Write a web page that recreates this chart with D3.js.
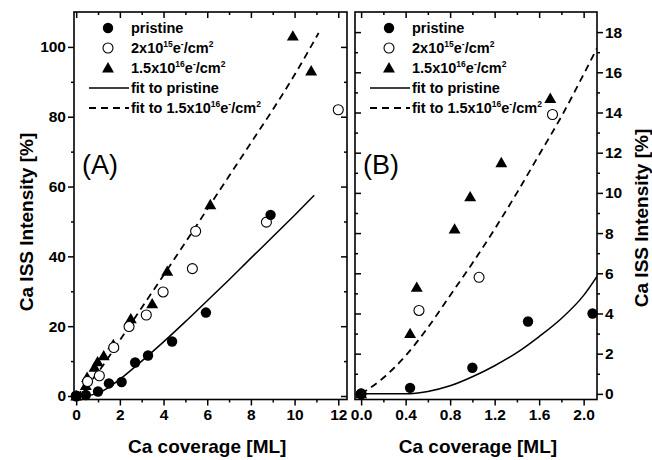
<!DOCTYPE html>
<html>
<head>
<meta charset="utf-8">
<script src="https://cdn.jsdelivr.net/npm/d3@7"></script>
<style>
  body { margin: 0; background: white; }
  text { font-family: "Liberation Sans", Arial, sans-serif; }
</style>
</head>
<body>
<svg id="chart" width="652" height="460"></svg>
<script>
// measured data (Ca coverage [ML], Ca ISS intensity [%])
const pristine = [[0,0],[0.44,0.3],[1.0,1.3],[1.5,3.6],[2.08,4.0],[2.7,9.6],[3.29,11.6],[4.39,15.6],[5.94,23.9],[8.9,51.9]];
const dose2e15 = [[0,0],[0.52,4.15],[1.06,5.8],[1.72,13.9],[2.42,19.9],[3.21,23.2],[3.98,29.8],[5.32,36.5],[5.47,47.2],[8.71,49.8],[12.0,82]];
const dose15e16 = [[0,0],[0.44,3.0],[0.5,5.3],[0.84,8.2],[0.98,9.8],[1.26,11.5],[1.7,14.7],[2.5,22.1],[3.48,26.4],[4.17,35.7],[6.14,54.8],[9.92,103.1],[10.76,93.1]];

// fit curves
const fitPristineA = [[0,0],[0.5,0.1],[1,0.9],[1.5,2.5],[2,4.8],[3,10],[4,15.5],[5,21.3],[6,27.3],[7,33.3],[8,39.5],[9,45.6],[10,51.8],[10.9,57.5]];
const fitDoseA = [[0,0],[0.5,3],[1,6.8],[2,16],[3,25.3],[4,34.6],[5,44],[6,53.5],[7,63],[8,72.5],[9,82],[10,92],[11.1,104]];
const fitPristineB = [[0,0],[0.4,0],[0.6,0.12],[0.8,0.4],[1.0,0.85],[1.2,1.4],[1.4,2.05],[1.6,2.85],[1.8,3.75],[2.0,4.9],[2.12,5.85]];
const fitDoseB = [[0,0],[0.2,0.8],[0.4,1.9],[0.6,3.3],[0.8,4.9],[1.0,6.5],[1.2,8.2],[1.4,10.0],[1.6,11.9],[1.8,13.8],[2.0,15.9],[2.12,17.2]];

const xTicksA = [0,2,4,6,8,10,12];
const yTicksA = [0,20,40,60,80,100];
const xTicksB = [0.0,0.4,0.8,1.2,1.6,2.0];
const yTicksB = [0,2,4,6,8,10,12,14,16,18];

const legendLabels = ["pristine", "2x10|15|e|-|/cm|2", "1.5x10|16|e|-|/cm|2", "fit to pristine", "fit to 1.5x10|16|e|-|/cm|2"];

const svg = d3.select("svg#chart");
const plotTop = 12, plotBottom = 399.5;

// panel A
const xA = d3.scaleLinear().domain([-0.1, 12.4]).range([74, 347]);
const yA = d3.scaleLinear().domain([-1, 110]).range([plotBottom, plotTop]);
// panel B
const xB = d3.scaleLinear().domain([-0.055, 2.12]).range([355, 597]);
const yB = d3.scaleLinear().domain([-0.28, 19]).range([plotBottom, plotTop]);

function minor(major) {
    // halfway minor ticks between majors, and one beyond each end
    let step = major[1] - major[0];
    let out = [];
    for (let i = -1; i < major.length; i++) out.push(+(major[0] + step * (i + 0.5)).toFixed(3));
    return out;
}

function panel(name, x, y, xt, yt, xfmt, yfmt, labelsLeft, fitP, fitD, legendX) {
    const g = svg.append("g").attr("class", "panel-" + name);
    const [x0, x1] = x.range();
    const xMinor = minor(xt).filter(d => x(d) > x0 && x(d) < x1);
    const yMinor = minor(yt).filter(d => y(d) < plotBottom && y(d) > plotTop);

    // bottom axis, outward ticks
    g.append("g").attr("transform", `translate(0,${plotBottom})`)
        .call(d3.axisBottom(x).tickValues(xt).tickSize(6).tickPadding(3).tickFormat(xfmt));
    g.append("g").attr("transform", `translate(0,${plotBottom})`)
        .call(d3.axisBottom(x).tickValues(xMinor).tickSize(3).tickFormat(""));
    // top mirror, inward
    g.append("g").attr("transform", `translate(0,${plotTop})`)
        .call(d3.axisBottom(x).tickValues(xt).tickSize(6).tickFormat(""));
    g.append("g").attr("transform", `translate(0,${plotTop})`)
        .call(d3.axisBottom(x).tickValues(xMinor).tickSize(3).tickFormat(""));

    if (labelsLeft) {
        g.append("g").attr("transform", `translate(${x0},0)`)
            .call(d3.axisLeft(y).tickValues(yt).tickSize(6).tickPadding(2).tickFormat(yfmt));
        g.append("g").attr("transform", `translate(${x0},0)`)
            .call(d3.axisLeft(y).tickValues(yMinor).tickSize(3).tickFormat(""));
        g.append("g").attr("transform", `translate(${x1},0)`)
            .call(d3.axisLeft(y).tickValues(yt).tickSize(6).tickFormat(""));
        g.append("g").attr("transform", `translate(${x1},0)`)
            .call(d3.axisLeft(y).tickValues(yMinor).tickSize(3).tickFormat(""));
    } else {
        g.append("g").attr("transform", `translate(${x1},0)`)
            .call(d3.axisRight(y).tickValues(yt).tickSize(6).tickPadding(2).tickFormat(yfmt));
        g.append("g").attr("transform", `translate(${x1},0)`)
            .call(d3.axisRight(y).tickValues(yMinor).tickSize(3).tickFormat(""));
        g.append("g").attr("transform", `translate(${x0},0)`)
            .call(d3.axisRight(y).tickValues(yt).tickSize(6).tickFormat(""));
        g.append("g").attr("transform", `translate(${x0},0)`)
            .call(d3.axisRight(y).tickValues(yMinor).tickSize(3).tickFormat(""));
    }
    g.selectAll(".domain").remove();
    g.selectAll(".tick line").attr("stroke", "black").attr("stroke-width", 1.5);
    g.selectAll(".tick text").attr("font-size", 15.5).attr("font-weight", "bold")
        .attr("fill", "black").style("font-family", "'Liberation Sans', Arial, sans-serif");

    // frame
    g.append("rect").attr("x", x0).attr("y", plotTop).attr("width", x1 - x0).attr("height", plotBottom - plotTop)
        .attr("fill", "none").attr("stroke", "black").attr("stroke-width", 1.6);

    // clip for fit lines
    svg.append("clipPath").attr("id", "clip" + name).append("rect")
        .attr("x", x0).attr("y", plotTop).attr("width", x1 - x0).attr("height", plotBottom - plotTop);

    const line = d3.line().x(d => x(d[0])).y(d => y(d[1])).curve(d3.curveMonotoneX);
    g.append("path").datum(fitP).attr("d", line).attr("clip-path", `url(#clip${name})`)
        .attr("fill", "none").attr("stroke", "black").attr("stroke-width", 1.5);
    g.append("path").datum(fitD).attr("d", line).attr("clip-path", `url(#clip${name})`)
        .attr("fill", "none").attr("stroke", "black").attr("stroke-width", 1.8)
        .attr("stroke-dasharray", "7,5");

    const inside = d => x(d[0]) >= x0 - 1 && x(d[0]) <= x1 + 1 && y(d[1]) >= plotTop && y(d[1]) <= plotBottom + 1;
    const tri = d3.symbol().type(d3.symbolTriangle).size(62);

    g.selectAll("path.tri").data(dose15e16.filter(inside)).join("path")
        .attr("class", "tri").attr("d", tri)
        .attr("transform", d => `translate(${x(d[0])},${y(d[1]) + 1})`)
        .attr("fill", "black");
    g.selectAll("circle.open").data(dose2e15.filter(inside)).join("circle")
        .attr("class", "open").attr("cx", d => x(d[0])).attr("cy", d => y(d[1])).attr("r", 5)
        .attr("fill", "white").attr("stroke", "black").attr("stroke-width", 1.1);
    g.selectAll("circle.filled").data(pristine.filter(inside)).join("circle")
        .attr("class", "filled").attr("cx", d => x(d[0])).attr("cy", d => y(d[1])).attr("r", 5.2)
        .attr("fill", "black");

    // legend
    const lg = g.append("g").attr("transform", `translate(${legendX},0)`);
    const rowY = [28, 48, 68, 88, 108];
    const sx = 19; // symbol centre offset
    lg.append("circle").attr("cx", sx).attr("cy", rowY[0]).attr("r", 5.2).attr("fill", "black");
    lg.append("circle").attr("cx", sx).attr("cy", rowY[1]).attr("r", 5)
        .attr("fill", "white").attr("stroke", "black").attr("stroke-width", 1.1);
    lg.append("path").attr("d", tri).attr("transform", `translate(${sx},${rowY[2] + 1})`).attr("fill", "black");
    lg.append("line").attr("x1", 0).attr("x2", 40).attr("y1", rowY[3]).attr("y2", rowY[3])
        .attr("stroke", "black").attr("stroke-width", 1.5);
    lg.append("line").attr("x1", 0).attr("x2", 40).attr("y1", rowY[4]).attr("y2", rowY[4])
        .attr("stroke", "black").attr("stroke-width", 1.8).attr("stroke-dasharray", "7,5");

    legendLabels.forEach((lab, i) => {
        const t = lg.append("text").attr("x", 42).attr("y", rowY[i] + 5)
            .attr("font-size", 14.5).attr("font-weight", "bold").attr("fill", "black");
        lab.split("|").forEach((part, j) => {
            const sup = j % 2 === 1;
            t.append("tspan").text(part)
                .attr("font-size", sup ? 8.5 : 14.5)
                .attr("dy", sup ? -6 : (j > 0 ? 6 : 0));
        });
    });

    // panel tag
    g.append("text").attr("x", x0 + 8).attr("y", 174).text("(" + name + ")")
        .attr("font-size", 27).attr("fill", "black");
}

panel("A", xA, yA, xTicksA, yTicksA, d3.format("d"), d3.format("d"), true, fitPristineA, fitDoseA, 89);
panel("B", xB, yB, xTicksB, yTicksB, d3.format(".1f"), d3.format("d"), false, fitPristineB, fitDoseB, 370);

// axis titles
svg.append("text").attr("x", xA(6)).attr("y", 453).attr("text-anchor", "middle")
    .attr("font-size", 19).attr("font-weight", "bold").text("Ca coverage [ML]");
svg.append("text").attr("x", xB(1.05)).attr("y", 453).attr("text-anchor", "middle")
    .attr("font-size", 19).attr("font-weight", "bold").text("Ca coverage [ML]");
svg.append("text").attr("transform", `translate(33,222) rotate(-90)`)
    .attr("text-anchor", "middle").attr("font-size", 19).attr("font-weight", "bold")
    .text("Ca ISS Intensity [%]");
svg.append("text").attr("transform", `translate(648,218) rotate(-90)`)
    .attr("text-anchor", "middle").attr("font-size", 19).attr("font-weight", "bold")
    .text("Ca ISS Intensity [%]");
</script>
</body>
</html>
